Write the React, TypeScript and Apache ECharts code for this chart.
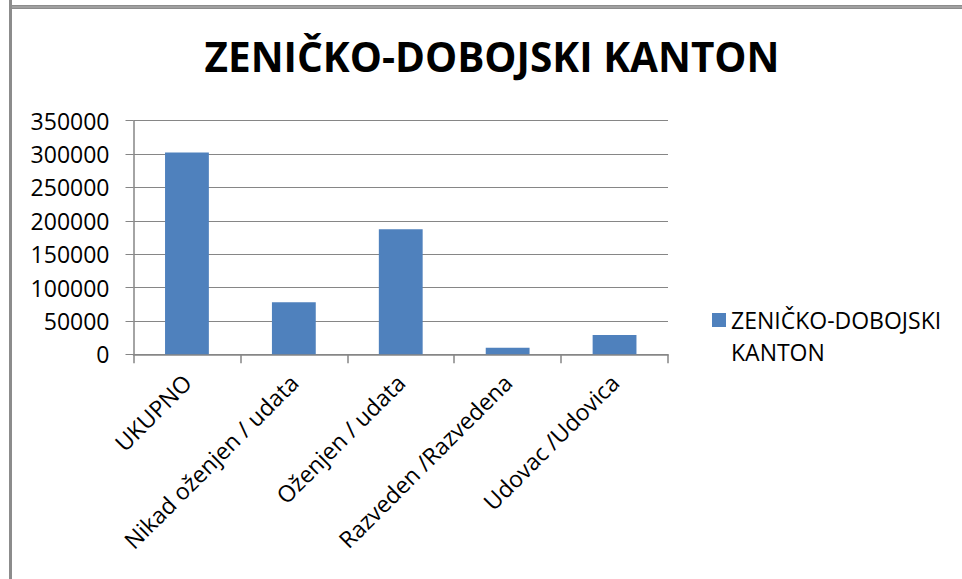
import React, { useEffect, useRef } from 'react';
import * as echarts from 'echarts';

const chartTitle = 'ZENIČKO-DOBOJSKI KANTON';
const seriesName = 'ZENIČKO-DOBOJSKI KANTON';
const categories = [
  'UKUPNO',
  'Nikad oženjen / udata',
  'Oženjen / udata',
  'Razveden /Razvedena',
  'Udovac /Udovica',
];
const values = [302500, 78000, 187500, 10000, 29000];
const yMin = 0;
const yMax = 350000;
const yInterval = 50000;

const GRID = '#868686';
const FONT = 'Open Sans';

export default function App() {
  const ref = useRef<HTMLDivElement>(null);

  useEffect(() => {
    if (!ref.current) return;
    const chart = echarts.init(ref.current, undefined, { renderer: 'svg' });
    chart.setOption({
      animation: false,
      backgroundColor: '#ffffff',
      textStyle: { fontFamily: FONT },
      title: {
        text: chartTitle,
        left: 487,
        textAlign: 'center',
        top: 31,
        textStyle: { fontFamily: FONT, fontWeight: 'bold', fontSize: 40.5, color: '#000' },
      },
      grid: { left: 133.5, top: 120.7, width: 534.5, height: 233.6, containLabel: false },
      xAxis: {
        type: 'category',
        data: categories,
        axisLine: { show: true, lineStyle: { color: GRID, width: 1.5 } },
        axisTick: { show: true, length: 9, alignWithLabel: false, lineStyle: { color: GRID, width: 1.5 } },
        axisLabel: { interval: 0, rotate: 45, margin: 24, fontSize: 23, color: '#000', fontFamily: FONT },
        splitLine: { show: false },
      },
      yAxis: {
        type: 'value',
        min: yMin,
        max: yMax,
        interval: yInterval,
        axisLine: { show: true, lineStyle: { color: GRID, width: 1.5 } },
        axisTick: { show: true, length: 8, lineStyle: { color: GRID, width: 1 } },
        splitLine: { show: true, lineStyle: { color: GRID, width: 1 } },
        axisLabel: {
          margin: 24,
          fontSize: 23,
          color: '#000',
          fontFamily: FONT,
          formatter: (v: number) => String(v),
        },
      },
      legend: {
        left: 707,
        top: 267,
        orient: 'vertical',
        icon: 'rect',
        itemWidth: 14,
        itemHeight: 14,
        data: [seriesName],
        formatter: (name: string) => '{e| }\n{t|' + name.replace(' ', '}\n{t|') + '}',
        textStyle: {
          fontSize: 23,
          color: '#000',
          fontFamily: FONT,
          rich: {
            e: { fontSize: 23, lineHeight: 32, height: 32 },
            t: { fontSize: 23, lineHeight: 32, color: '#000', fontFamily: FONT },
          },
        },
      },
      series: [
        {
          type: 'bar',
          name: seriesName,
          data: values,
          barWidth: '41%',
          itemStyle: { color: '#4F81BD' },
        },
      ],
      graphic: [
        { type: 'rect', shape: { x: 9, y: 0, width: 3, height: 579 }, style: { fill: '#8c8c8c' }, silent: true },
        { type: 'rect', shape: { x: 9, y: 5, width: 953, height: 4 }, style: { fill: '#8c8c8c' }, silent: true },
        { type: 'rect', shape: { x: 12, y: 6.5, width: 950, height: 1 }, style: { fill: '#b4b4b4' }, silent: true },
      ],
    });
    return () => chart.dispose();
  }, []);

  return (
    <div
      ref={ref}
      style={{ position: 'fixed', left: 0, top: 0, width: 962, height: 579, background: '#fff' }}
    />
  );
}
